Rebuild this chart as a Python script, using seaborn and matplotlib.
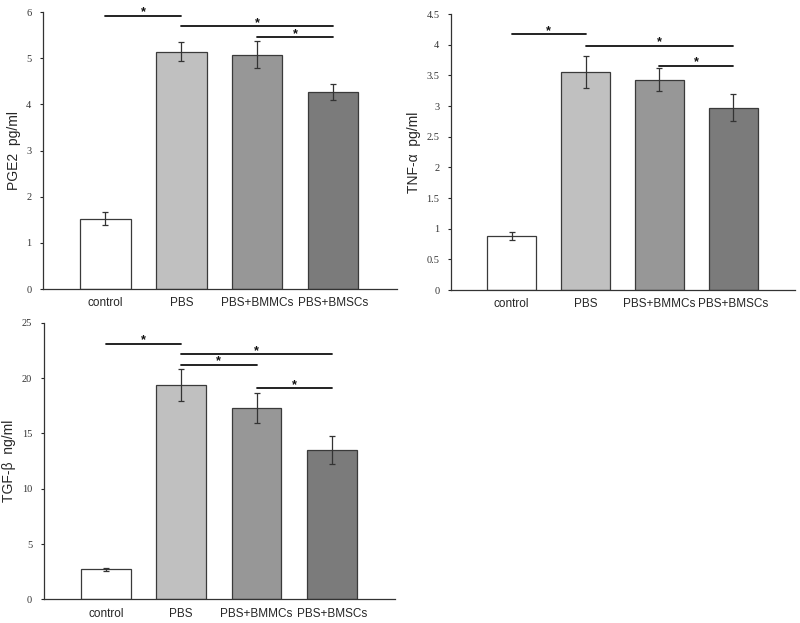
import numpy as np
import pandas as pd
import matplotlib
matplotlib.use('Agg')
import matplotlib.pyplot as plt
import seaborn as sns

# ---- data ----
groups = ['control', 'PBS', 'PBS+BMMCs', 'PBS+BMSCs']
bar_colors = ['#ffffff', '#c0c0c0', '#979797', '#7b7b7b']

pge2_mean = [1.52, 5.14, 5.08, 4.27]
pge2_err = [0.14, 0.21, 0.29, 0.18]

tnf_mean = [0.88, 3.56, 3.43, 2.97]
tnf_err = [0.07, 0.26, 0.19, 0.22]

tgf_mean = [2.70, 19.40, 17.27, 13.50]
tgf_err = [0.15, 1.45, 1.35, 1.27]

# significance brackets: (from group, to group, height)
pge2_sig = [(0, 1, 5.92), (1, 3, 5.70), (2, 3, 5.45)]
tnf_sig = [(0, 1, 4.17), (1, 3, 3.98), (2, 3, 3.66)]
tgf_sig = [(0, 1, 23.1), (1, 3, 22.15), (1, 2, 21.2), (2, 3, 19.1)]

sns.set_theme(style='ticks')
plt.rcParams['font.family'] = ['Liberation Sans', 'DejaVu Sans']

fig = plt.figure(figsize=(8, 6.23), dpi=100)
ax1 = fig.add_axes([0.054, 0.536, 0.4425, 0.4446])
ax2 = fig.add_axes([0.564, 0.5345, 0.43, 0.443])
ax3 = fig.add_axes([0.055, 0.038, 0.439, 0.444])


def draw_panel(ax, means, errs, sig, ylabel, ymax, ystep, star_off):
    df = pd.DataFrame({'group': groups, 'value': means})
    sns.barplot(data=df, x='group', y='value', hue='group', palette=bar_colors,
                legend=False, width=0.66, edgecolor='#3a3a3a', linewidth=0.9,
                ax=ax)
    ax.errorbar(np.arange(len(groups)), means, yerr=errs, fmt='none',
                ecolor='#333333', elinewidth=0.9, capsize=2.5, capthick=0.9)
    for i, j, h in sig:
        ax.plot([i, j], [h, h], color='#111111', lw=1.3, clip_on=False)
        ax.text((i + j) / 2, h + star_off, '*', ha='center', va='center',
                fontsize=9, fontweight='bold', color='#111111')
    ax.set_xlim(-0.82, 3.84)
    ax.set_ylim(0, ymax)
    ticks = np.arange(0, ymax + ystep / 2, ystep)
    ax.set_yticks(ticks)
    ax.set_yticklabels([f'{t:g}' for t in ticks], family='Liberation Serif',
                       fontsize=7.5, color='#333333')
    ax.tick_params(axis='y', length=2.5, width=0.8, pad=6)
    ax.tick_params(axis='x', length=0, pad=6)
    for lab in ax.get_xticklabels():
        lab.set_fontsize(8.5)
        lab.set_stretch('condensed')
    ax.set_xlabel('')
    ax.set_ylabel(ylabel, fontsize=10, labelpad=4)
    sns.despine(ax=ax)
    ax.spines['left'].set_color('#333333')
    ax.spines['bottom'].set_color('#333333')
    ax.spines['left'].set_linewidth(0.9)
    ax.spines['bottom'].set_linewidth(0.9)


draw_panel(ax1, pge2_mean, pge2_err, pge2_sig, 'PGE2  pg/ml', 6, 1, 0.07)
draw_panel(ax2, tnf_mean, tnf_err, tnf_sig, 'TNF-α  pg/ml', 4.5, 0.5, 0.055)
draw_panel(ax3, tgf_mean, tgf_err, tgf_sig, 'TGF-β  ng/ml', 25, 5, 0.3)

fig.savefig('out.png', dpi=100)
